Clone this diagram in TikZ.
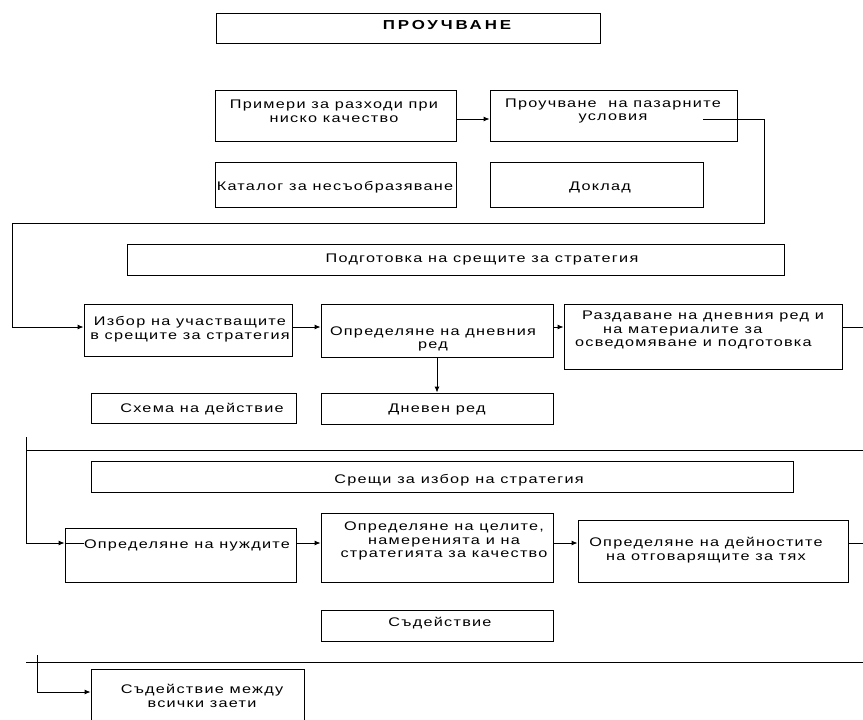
\documentclass[tikz,border=0pt]{standalone}
\usepackage{fontspec}
\setmainfont{Liberation Sans}[FakeStretch=1.3, LetterSpace=10]
\usetikzlibrary{arrows.meta,fit}
\begin{document}
\begin{tikzpicture}[x=1pt,y=-1pt,
  box/.style={draw, line width=0.9pt, inner sep=0pt},
  txt/.style={inner sep=0pt, align=center, font=\fontsize{12.5}{13.6}\selectfont},
  conn/.style={line width=0.9pt},
  arr/.style={conn, -{Latex[length=6pt,width=5pt]}}]
\useasboundingbox (0,0) rectangle (863,720);
\clip (0,0) rectangle (863,720);
% boxes
\node[box, fit={(216,13) (600,43)}] (title) {};
\node[box, fit={(215,90) (456,141)}] (prim) {};
\node[box, fit={(490,90) (737,141)}] (prouch) {};
\node[box, fit={(215,162) (456,207)}] (katal) {};
\node[box, fit={(490,162) (703,207)}] (doklad) {};
\node[box, fit={(127,244) (784,275)}] (podg) {};
\node[box, fit={(84,304) (292,356)}] (izbor) {};
\node[box, fit={(321,304) (553,357)}] (opred) {};
\node[box, fit={(564,304) (842,369)}] (razd) {};
\node[box, fit={(91,393) (296,423)}] (schema) {};
\node[box, fit={(321,393) (553,424)}] (dnev) {};
\node[box, fit={(91,461) (793,492)}] (sreshti) {};
\node[box, fit={(65,528) (296,582)}] (nujdi) {};
\node[box, fit={(321,513) (553,582)}] (celi) {};
\node[box, fit={(578,520) (848,582)}] (deyn) {};
\node[box, fit={(321,610) (553,641)}] (sadeystv) {};
\node[box, fit={(91,669) (304,725)}] (sadm) {};
% texts
\node[txt, font=\fontsize{13}{15}\selectfont\bfseries\addfontfeatures{LetterSpace=22}] (titlet) at (447,25) {ПРОУЧВАНЕ};
\node[txt] (primt) at (334,111) {Примери за разходи при\\ниско качество};
\node[txt] (prouc) at (613,111) {Проучване\ \ на пазарните\\условия};
\node[txt] (katalt) at (335,187) {Каталог за несъобразяване};
\node[txt] (dokladt) at (600,187) {Доклад};
\node[txt] (podgt) at (482,259) {Подготовка на срещите за стратегия};
\node[txt] (izbort) at (190,329) {Избор на участващите\\в срещите за стратегия};
\node[txt] (opredt) at (433,339) {Определяне на дневния\\ред};
\node[txt, align=left, anchor=west] (razdt) at (575,330) {\hspace*{7pt}Раздаване на дневния ред и\\\hspace*{28pt}на материалите за\\осведомяване и подготовка};
\node[txt] (schemat) at (202,409) {Схема на действие};
\node[txt] (dnevt) at (437,409) {Дневен ред};
\node[txt] (sreshtit) at (459,480) {Срещи за избор на стратегия};
\node[txt] (nujdit) at (187,545) {Определяне на нуждите};
\node[txt] (celit) at (444,541) {Определяне на целите,\\намеренията и на\\стратегията за качество};
\node[txt] (deynt) at (706,550) {Определяне на дейностите\\на отговарящите за тях};
\node[txt] (sadeystvt) at (440,623) {Съдействие};
\node[txt] (sadmt) at (202,696) {Съдействие между\\всички заети};
% connector coordinates
\coordinate (r0) at (0,119);
\coordinate (r1) at (0,327);
\coordinate (r2) at (0,543);
\coordinate (r3) at (0,692);
\coordinate (c1) at (703,119);
\coordinate (c2) at (764,223);
\coordinate (c3) at (12,223);
\coordinate (e1) at (863,327);
\coordinate (h1a) at (26,450);
\coordinate (h1b) at (863,450);
\coordinate (v1) at (26,437);
\coordinate (e2) at (863,543);
\coordinate (h2a) at (26,662);
\coordinate (h2b) at (863,662);
\coordinate (v2) at (37,655);
% connectors
\draw[arr] (prim.east |- r0) -- (prouch.west |- r0);
\draw[arr] (c1) -| (c2) -- (c3) |- (izbor.west |- r1);
\draw[arr] (izbor.east |- r1) -- (opred.west |- r1);
\draw[arr] (opred.east |- r1) -- (razd.west |- r1);
\draw[conn] (razd.east |- r1) -- (e1);
\draw[arr] (opred.south) -- (dnev.north);
\draw[conn] (h1a) -- (h1b);
\draw[arr] (v1) |- (nujdi.west |- r2);
\draw[conn] (nujdi.west |- r2) -- (nujdit.west |- r2);
\draw[arr] (nujdi.east |- r2) -- (celi.west |- r2);
\draw[arr] (celi.east |- r2) -- (deyn.west |- r2);
\draw[conn] (deyn.east |- r2) -- (e2);
\draw[conn] (h2a) -- (h2b);
\draw[arr] (v2) |- (sadm.west |- r3);
\end{tikzpicture}
\end{document}
